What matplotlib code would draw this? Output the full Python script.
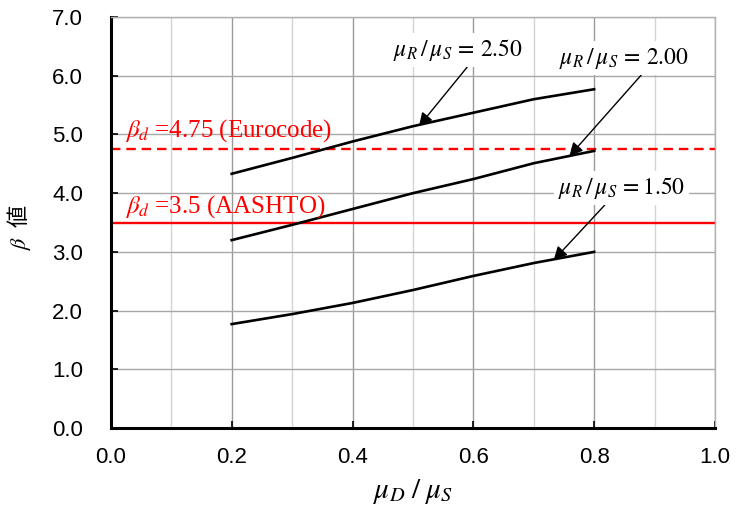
import matplotlib
matplotlib.use('Agg')
import matplotlib.pyplot as plt
import numpy as np

plt.rcParams['mathtext.fontset'] = 'stix'

# datos
mu_d_mu_s = [0.2, 0.3, 0.4, 0.5, 0.6, 0.7, 0.8]
beta_250 = [4.33, 4.60, 4.88, 5.14, 5.37, 5.60, 5.77]
beta_200 = [3.20, 3.46, 3.73, 4.00, 4.24, 4.51, 4.72]
beta_150 = [1.77, 1.94, 2.13, 2.35, 2.59, 2.81, 3.00]
beta_eurocode = 4.75
beta_aashto = 3.5

fig = plt.figure(figsize=(7.44, 5.16), dpi=100)
ax = fig.add_axes([0.149, 0.1705, 0.812, 0.7965])

# grilla
for x in np.arange(0.1, 1.01, 0.1):
    mayor = round(x * 10) % 2 == 0
    ax.axvline(x, color='#9a9a9a' if mayor else '#d4d4d4', lw=1.0, zorder=0)
for y in np.arange(1, 7.01, 1):
    ax.axhline(y, color='#a8a8a8', lw=1.0, zorder=0)

ax.plot(mu_d_mu_s, beta_250, color='black', lw=1.9, zorder=3)
ax.plot(mu_d_mu_s, beta_200, color='black', lw=1.9, zorder=3)
ax.plot(mu_d_mu_s, beta_150, color='black', lw=1.9, zorder=3)

ax.axhline(beta_eurocode, color='red', lw=1.7, ls=(0, (4, 2.5)), zorder=2)
ax.axhline(beta_aashto, color='red', lw=1.7, zorder=2)

serif = ['Liberation Serif', 'DejaVu Serif']
ax.text(0.023, 5.07, r'$\beta_d$ =4.75 (Eurocode)', color='red', fontsize=18,
        family=serif, va='center', ha='left', zorder=4)
ax.text(0.023, 3.78, r'$\beta_d$ =3.5 (AASHTO)', color='red', fontsize=18,
        family=serif, va='center', ha='left', zorder=4)

caja = dict(facecolor='white', edgecolor='none', pad=3)
flecha = dict(arrowstyle='-|>', color='black', lw=1.0, mutation_scale=20,
              shrinkA=0, shrinkB=0)
ax.annotate(r'$\mu_R\,/\,\mu_S\,=\,2.50$', xy=(0.51, 5.14), xytext=(0.574, 6.44),
            fontsize=17, ha='center', va='center', bbox=caja, zorder=5,
            arrowprops=dict(flecha, relpos=(0.6, 0.0)))
ax.annotate(r'$\mu_R\,/\,\mu_S\,=\,2.00$', xy=(0.759, 4.63), xytext=(0.85, 6.30),
            fontsize=17, ha='center', va='center', bbox=caja, zorder=5,
            arrowprops=dict(flecha, relpos=(0.66, 0.0)))
ax.annotate(r'$\mu_R\,/\,\mu_S\,=1.50$', xy=(0.733, 2.86), xytext=(0.845, 4.09),
            fontsize=17, ha='center', va='center', bbox=caja, zorder=5,
            arrowprops=dict(flecha, relpos=(0.4, 0.0)))

ax.set_xlim(0, 1.0)
ax.set_ylim(0, 7.0)
ax.set_xticks(np.arange(0, 1.01, 0.2))
ax.set_yticks(np.arange(0, 7.01, 1))
ax.set_xticklabels([f'{v:.1f}' for v in np.arange(0, 1.01, 0.2)])
ax.set_yticklabels([f'{v:.1f}' for v in np.arange(0, 7.01, 1)])
ax.tick_params(direction='in', length=5, width=1.2, labelsize=16, color='black')
ax.tick_params(axis='y', pad=20)
ax.tick_params(axis='x', pad=14)
for lab in ax.get_xticklabels() + ax.get_yticklabels():
    lab.set_family(['Liberation Sans', 'DejaVu Sans'])

for lado in ['left', 'bottom']:
    ax.spines[lado].set_linewidth(2.2)
    ax.spines[lado].set_color('black')
for lado in ['top', 'right']:
    ax.spines[lado].set_linewidth(1.0)
    ax.spines[lado].set_color('#b0b0b0')

ax.set_xlabel(r'$\mu_D\;/\;\mu_S$', fontsize=21, labelpad=6)
ax.set_ylabel(r'$\beta$  値', fontsize=16, family=['Noto Sans CJK JP', 'DejaVu Sans'])
ax.yaxis.set_label_coords(-0.129, 0.489)

plt.savefig('out.png', dpi=100)
plt.close('all')
